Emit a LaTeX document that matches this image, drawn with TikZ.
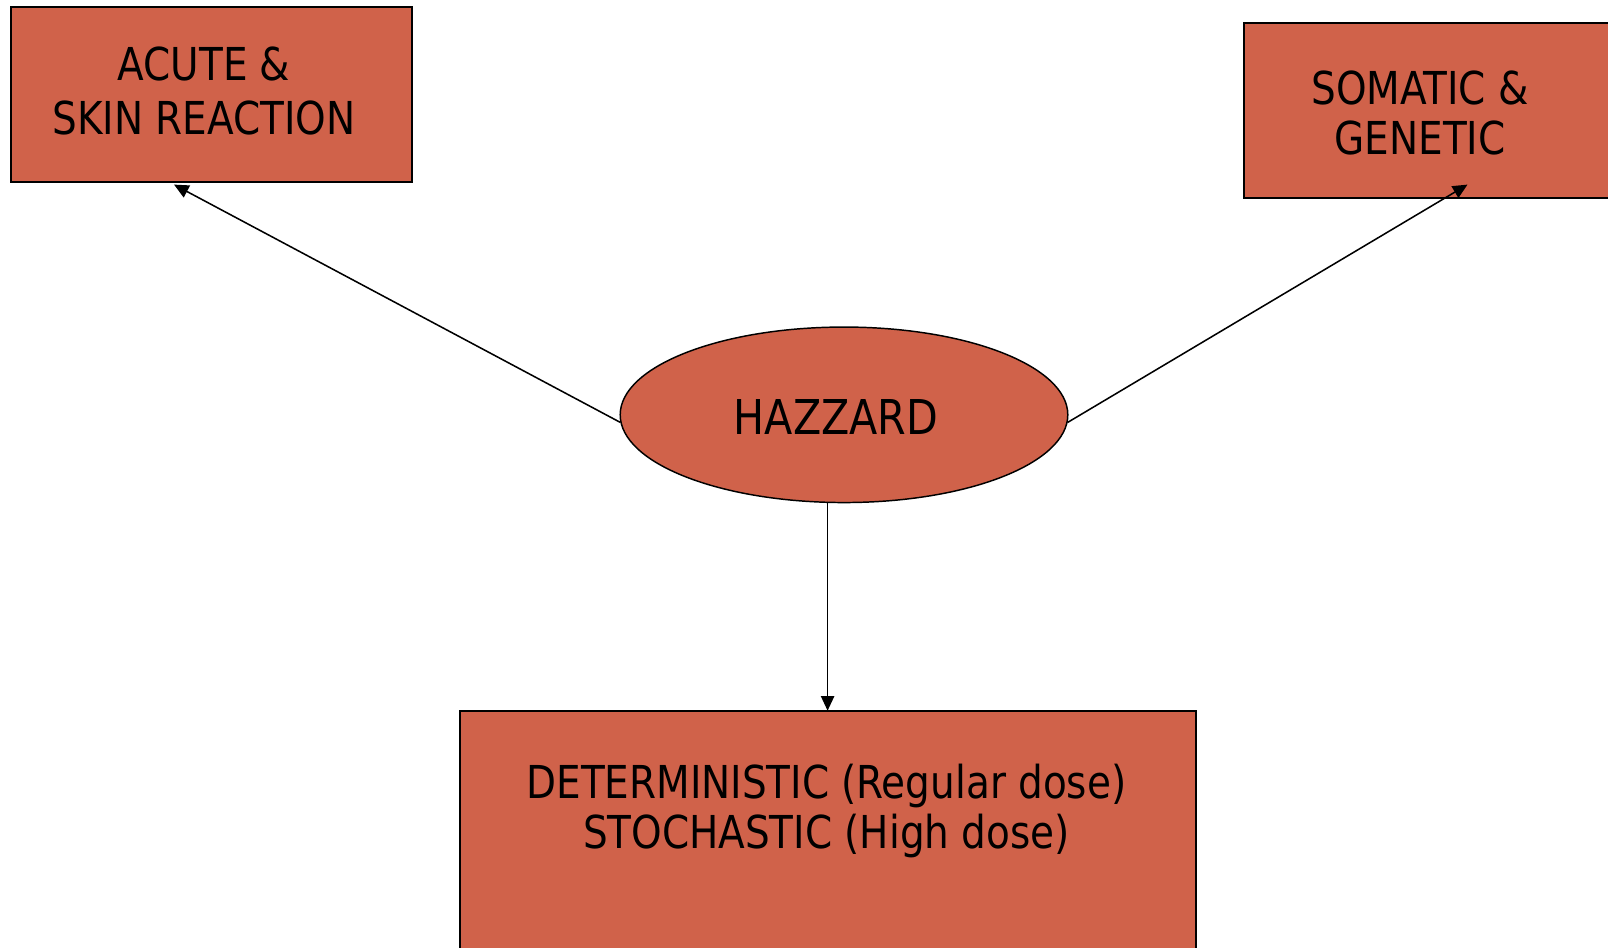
\documentclass[tikz,border=0pt]{standalone}
\usepackage{fontspec}
\setmainfont[FakeStretch=0.955]{DejaVu Sans Condensed}
\usetikzlibrary{arrows.meta,shapes.geometric}
\definecolor{boxfill}{RGB}{208,98,74}
\tikzset{
  box/.style={draw=black, line width=1.5pt, fill=boxfill, rectangle, inner sep=0pt},
  oval/.style={draw=black, line width=1.1pt, fill=boxfill, ellipse, inner sep=0pt},
  lbl/.style={align=center, font=\fontsize{34}{38}\selectfont, inner sep=0pt},
  conn/.style={line width=1.15pt, -{Triangle[length=11pt,width=10pt]}}
}
\begin{document}
\begin{tikzpicture}[x=0.75pt,y=-0.75pt]
\useasboundingbox (0,0) rectangle (1608,948);
\fill[white] (0,0) rectangle (1608,948);
% boxes
\node[box, minimum width=400.7*0.75pt, minimum height=175.3*0.75pt] (acute) at (211.6,94.8) {};
\node[box, minimum width=376*0.75pt, minimum height=175.4*0.75pt] (somatic) at (1432,110.3) {};
\node[oval, minimum width=447.6*0.75pt, minimum height=175.5*0.75pt] (haz) at (844,414.8) {};
\node[box, minimum width=736*0.75pt, minimum height=260*0.75pt] (det) at (828,840.7) {};
% labels
\node[lbl, font=\fontsize{34}{41}\selectfont] (acuteT) at (204,91) {ACUTE \&\\SKIN REACTION};
\node[lbl] (somT) at (1420,113) {SOMATIC \&\\GENETIC};
\node[lbl, font=\fontsize{36}{40}\selectfont] (hazT) at (836,417) {HAZZARD};
\node[lbl] (detT) at (826.5,811) {DETERMINISTIC (Regular dose)\\STOCHASTIC (High dose)};
% connectors
\coordinate (hL) at (620.5,422.5);
\coordinate (hR) at (1067.5,422.5);
\coordinate (hB) at (827.6,502.5);
\coordinate (aT) at (174,184.6);
\coordinate (sT) at (1467.5,184.6);
\coordinate (dT) at (827.6,710.7);
\draw[conn] (hL) -- (aT);
\draw[conn] (hR) -- (sT);
\draw[conn] (hB) -- (dT);
\end{tikzpicture}
\end{document}
